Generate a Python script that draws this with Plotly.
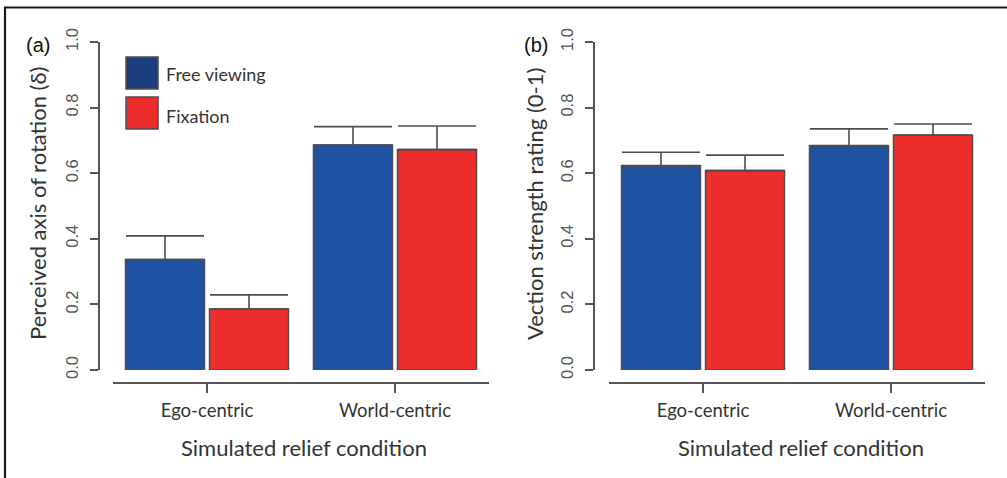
import plotly.graph_objects as go

# ---------------- data ----------------
categories = ["Ego-centric", "World-centric"]
series_names = ["Free viewing", "Fixation"]

axis_free = [0.337, 0.686]
axis_fix = [0.186, 0.672]
axis_free_err = [0.072, 0.056]
axis_fix_err = [0.043, 0.072]

vection_free = [0.623, 0.684]
vection_fix = [0.608, 0.716]
vection_free_err = [0.041, 0.051]
vection_fix_err = [0.047, 0.034]

y_ticks = [0.0, 0.2, 0.4, 0.6, 0.8, 1.0]
y_tick_labels = ["0.0", "0.2", "0.4", "0.6", "0.8", "1.0"]

panel_labels = ["(a)", "(b)"]
y_titles = ["Perceived axis of rotation (δ)", "Vection strength rating (0-1)"]
x_title = "Simulated relief condition"

# ---------------- styling ----------------
W, H = 1007, 478
BLUE = "#1F52A3"
RED = "#EE2D2D"
BLUE_SW = "#1B3F7E"
EDGE = "#4d4d4d"
AX = "#555555"
TXT = "#333333"
HUM = "Lato, 'Open Sans', sans-serif"
ARIAL = "'Liberation Sans', Arial, sans-serif"


def px(x):
    return x / W


def py(y):
    return 1 - y / H


fig = go.Figure()

panels = [
    ("x", "y", axis_free, axis_fix, axis_free_err, axis_fix_err),
    ("x2", "y2", vection_free, vection_fix, vection_free_err, vection_fix_err),
]
for xa, ya, free, fix, ferr, xerr in panels:
    for name, vals, errs, col in [
        (series_names[0], free, ferr, BLUE),
        (series_names[1], fix, xerr, RED),
    ]:
        fig.add_trace(go.Bar(
            x=categories, y=vals, name=name, xaxis=xa, yaxis=ya,
            marker=dict(color=col, line=dict(color=EDGE, width=1.5)),
            error_y=dict(type="data", array=errs, arrayminus=[0] * len(errs),
                         symmetric=False, color=EDGE, thickness=1.6, width=39),
            showlegend=False, hoverinfo="x+y",
        ))


def xaxis_cfg(l, r):
    return dict(domain=[px(l), px(r)], anchor="free", position=py(383),
                type="category", range=[-0.5, 1.5], showline=True,
                linecolor=AX, linewidth=1.6, ticks="outside", ticklen=9,
                tickwidth=1.6, tickcolor=AX, showgrid=False, zeroline=False,
                tickfont=dict(family=HUM, size=18.5, color=TXT),
                ticklabelstandoff=2,
                automargin=False, fixedrange=True)


def yaxis_cfg(xpos):
    return dict(domain=[py(370), py(42)], anchor="free", position=px(xpos),
                range=[0, 1], tickvals=y_ticks, ticktext=y_tick_labels,
                tickangle=-90, showline=True, linecolor=AX, linewidth=1.6,
                ticks="outside", ticklen=8, tickwidth=1.6, tickcolor=AX,
                showgrid=False, zeroline=False,
                tickfont=dict(family=ARIAL, size=16.5, color="#555555"),
                ticklabelstandoff=6,
                automargin=False, fixedrange=True)


fig.update_layout(
    width=W, height=H, margin=dict(l=0, r=0, t=0, b=0),
    template="none", paper_bgcolor="white", plot_bgcolor="white",
    barmode="group", bargap=0.106, bargroupgap=0.06,
    xaxis=xaxis_cfg(113, 489), yaxis=yaxis_cfg(99),
    xaxis2=xaxis_cfg(609, 985), yaxis2=yaxis_cfg(594),
    showlegend=False,
)

annotations = []
for lab, x in zip(panel_labels, [38, 536]):
    annotations.append(dict(text=lab, x=px(x), y=py(45), xref="paper", yref="paper",
                            showarrow=False, xanchor="center", yanchor="middle",
                            font=dict(family=ARIAL, size=20, color="#111111")))
for t, x in zip(y_titles, [37, 534]):
    annotations.append(dict(text=t, x=px(x), y=py(204), xref="paper", yref="paper",
                            showarrow=False, textangle=-90, xanchor="center",
                            yanchor="middle", font=dict(family=HUM, size=22, color=TXT)))
for x in [304, 801]:
    annotations.append(dict(text=x_title, x=px(x), y=py(447), xref="paper", yref="paper",
                            showarrow=False, xanchor="center", yanchor="middle",
                            font=dict(family=HUM, size=22, color=TXT)))
# legend texts
for t, y in zip(series_names, [74, 116]):
    annotations.append(dict(text=t, x=px(164), y=py(y), xref="paper", yref="paper",
                            showarrow=False, xanchor="left", yanchor="middle",
                            font=dict(family=HUM, size=18, color=TXT)))

shapes = [
    # outer frame
    dict(type="rect", xref="paper", yref="paper", x0=px(5), y0=py(490), x1=px(1015), y1=py(7.5),
         line=dict(color="#1a1a1a", width=2.2), fillcolor="rgba(0,0,0,0)", layer="above"),
    # legend swatches
    dict(type="rect", xref="paper", yref="paper", x0=px(126), x1=px(158), y0=py(89), y1=py(57),
         line=dict(color=EDGE, width=1.5), fillcolor=BLUE_SW),
    dict(type="rect", xref="paper", yref="paper", x0=px(126), x1=px(158), y0=py(129), y1=py(97),
         line=dict(color=EDGE, width=1.5), fillcolor=RED),
]

fig.update_layout(annotations=annotations, shapes=shapes)

fig.write_html("out.html", config={"displayModeBar": False},
               post_script="document.body.style.margin='0';")
